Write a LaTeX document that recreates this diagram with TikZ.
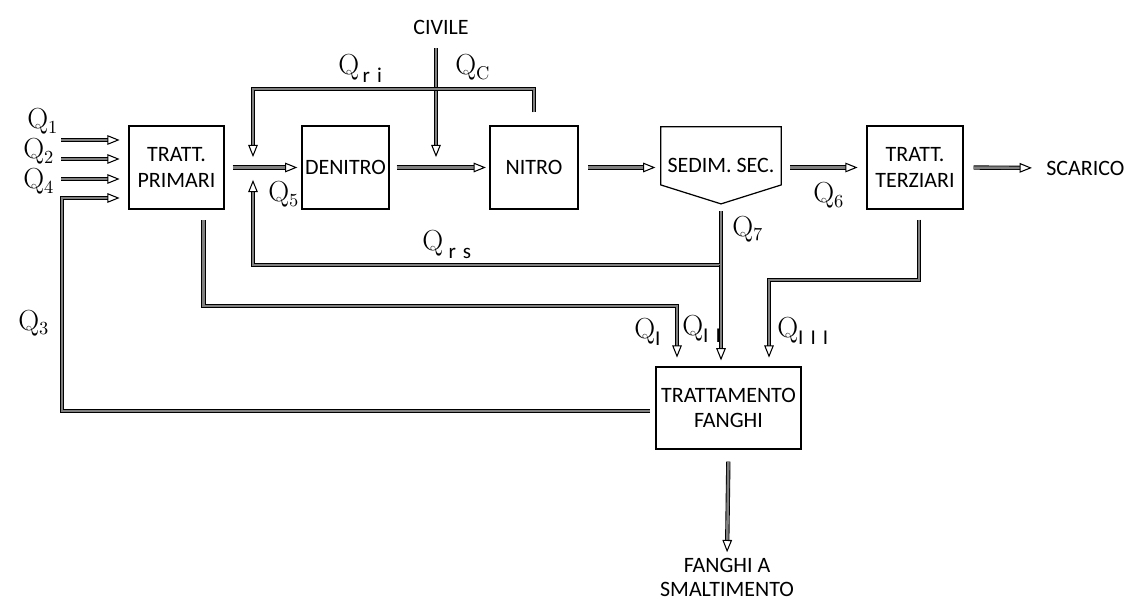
\documentclass[tikz,border=0pt]{standalone}
\usepackage{fontspec}
\newfontfamily\boxfont{Carlito}
\usetikzlibrary{arrows.meta,positioning,calc}
\newcommand{\Qn}[1]{Q\raisebox{-2.3pt}{\fontsize{10.5}{10.5}\selectfont #1}}
\newcommand{\Qs}[1]{Q\raisebox{-4pt}{\boxfont\fontsize{12}{12}\selectfont #1}}

\begin{document}
\begin{tikzpicture}[x=0.02cm, y=-0.02cm,
		blk/.style={draw, line width=0.7pt, font=\boxfont\fontsize{12.5}{14.5}\selectfont, align=center, inner sep=0pt, minimum height=1.66cm},
		txt/.style={font=\boxfont\fontsize{12.5}{13.6}\selectfont, align=center, inner sep=0pt},
		qlab/.style={font=\fontsize{16.5}{18}\selectfont, inner sep=0pt, anchor=base west},
		pipe/.style={draw=black, line width=0.5pt, double=black!50, double distance=1.45pt, -{Triangle[open, length=7pt, width=5.5pt, line width=0.6pt]}},
		duct/.style={draw=black, line width=0.5pt, double=black!50, double distance=1.45pt}]
		%%%%% START %%%%%
		\useasboundingbox (0,0) rectangle (1125,601);
		
		\node[blk, minimum width=1.9cm] (primari) at (176.5,167.5) {TRATT.\\PRIMARI};
		\node[blk, minimum width=1.74cm] (denitro) at (345.5,167.5) {DENITRO};
		\node[blk, minimum width=1.76cm] (nitro) at (534,167.5) {NITRO};
		\node[txt, minimum width=2.4cm, minimum height=1.53cm] (sedim) at (721,165.3) {SEDIM. SEC.};
		\draw[line width=0.7pt] (sedim.north west) -- (sedim.north east) -- ([yshift=0.38cm]sedim.south east) -- (sedim.south) -- ([yshift=0.38cm]sedim.south west) -- cycle;
		\node[blk, minimum width=1.92cm] (terziari) at (915,167.5) {TRATT.\\TERZIARI};
		\node[blk, minimum width=2.9cm, minimum height=1.64cm] (fanghi) at (728.5,408) {TRATTAMENTO\\FANGHI};
		
		\node[txt] (civile) at (441,27.5) {CIVILE};
		\node[txt, anchor=west] (scarico) at (1046,168) {SCARICO};
		\node[txt] (smalt) at (727,577) {FANGHI A\\SMALTIMENTO};
		
		% junctions
		\coordinate (mix) at (253,168);
		\coordinate (join) at (436,168);
		\coordinate (rirow) at (253,89);
		\coordinate (rsrow) at (721,265);
		\coordinate (irow) at (677,306);
		\coordinate (iiirow) at (769,280);
		\coordinate (q3row) at (62,411);
		\coordinate (q1in) at (61,140);
		\coordinate (q2in) at (61,159);
		\coordinate (q4in) at (61,179);
		
		% inlets
		\draw[pipe, shorten >=5pt] (q1in) -- (q1in -| primari.west);
		\draw[pipe, shorten >=5pt] (q2in) -- (q2in -| primari.west);
		\draw[pipe, shorten >=5pt] (q4in) -- (q4in -| primari.west);
		\draw[pipe, shorten <=3pt, shorten >=5pt] (fanghi.west |- q3row) -- (q3row) |- ([yshift=-0.61cm]primari.west);
		
		% main line
		\draw[pipe, shorten <=4.5pt, shorten >=2.3pt] (primari.east) -- (denitro.west);
		\draw[pipe, shorten <=4pt, shorten >=2pt] (denitro.east) -- (nitro.west);
		\draw[pipe, shorten <=5.5pt, shorten >=3pt] (nitro.east) -- (nitro.east -| sedim.west);
		\draw[pipe, shorten <=5pt, shorten >=5pt] (sedim.east |- terziari.west) -- (terziari.west);
		\draw[pipe, shorten <=5.7pt, shorten >=8pt] (terziari.east) -- (scarico.west);
		\draw[pipe, shorten <=7.4pt, shorten >=6.2pt] (civile.south -| join) -- (join);
		
		% recycles
		\draw[pipe, shorten <=7.4pt, shorten >=6.2pt] (nitro.north) -- (nitro.north |- rirow) -- (rirow) -- (mix);
		\draw[pipe, shorten <=4.2pt, shorten >=6.8pt] (sedim.south) -- (rsrow) -| (mix);
		
		% sludge
		\draw[pipe, shorten >=3.4pt] (rsrow) -- (rsrow |- fanghi.north);
		\draw[pipe, shorten <=6.2pt, shorten >=5pt] ([xshift=0.54cm]primari.south) |- (irow) -- (irow |- fanghi.north);
		\draw[pipe, shorten <=5.7pt, shorten >=5pt] ([xshift=0.08cm]terziari.south) |- (iiirow) -- (iiirow |- fanghi.north);
		\draw[pipe, shorten <=6.8pt, shorten >=3pt] (fanghi.south) -- (smalt.north);
		
		% flow labels
		\node[qlab] (lq1) at (27,129) {\Qn{1}};
		\node[qlab] (lq2) at (23,159) {\Qn{2}};
		\node[qlab] (lq4) at (23,189) {\Qn{4}};
		\node[qlab] (lq3) at (18,330) {\Qn{3}};
		\node[qlab] (lq5) at (268,202) {\Qn{5}};
		\node[qlab] (lqri) at (338,75) {\Qs{\hspace{2pt}r\hspace{4pt}i}};
		\node[qlab] (lqc) at (455,75) {\Qn{C}};
		\node[qlab] (lqrs) at (422,251) {\Qs{\hspace{3pt}r\hspace{4pt}s}};
		\node[qlab] (lq6) at (813,203) {\Qn{6}};
		\node[qlab] (lq7) at (732,236) {\Qn{7}};
		\node[qlab] (lqi) at (634,338) {\Qs{I}};
		\node[qlab] (lqii) at (682,335) {\Qs{I\hspace{4pt}I}};
		\node[qlab] (lqiii) at (777,337) {\Qs{I\hspace{4pt}I\hspace{4pt}I}};
		
		%%%%% END %%%%%
\end{tikzpicture}
\end{document}
